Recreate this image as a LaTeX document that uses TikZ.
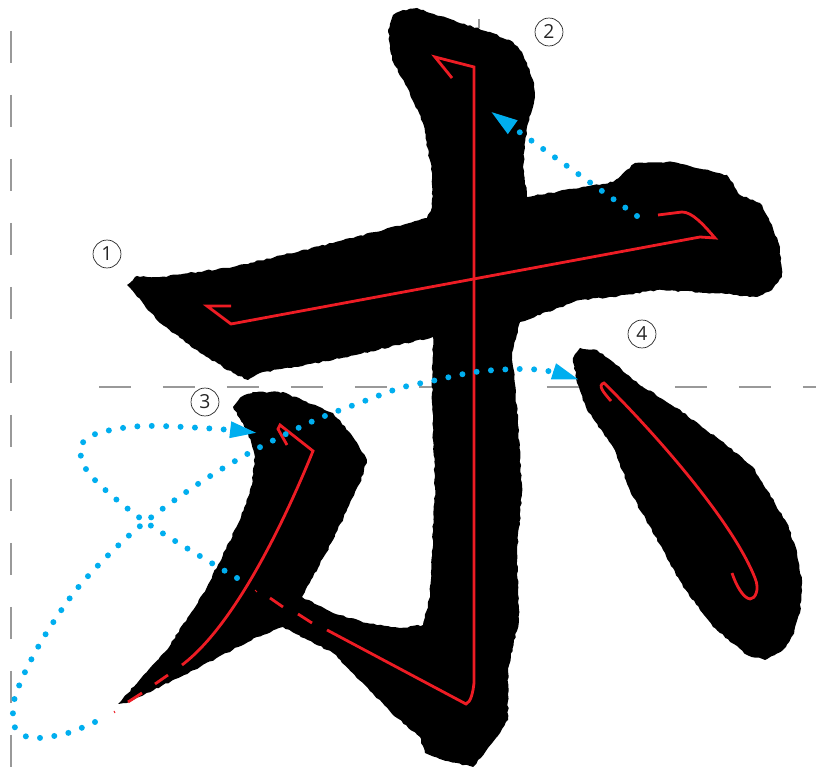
\documentclass[tikz,border=0pt]{standalone}
\usepackage{fontspec}
\newfontfamily\numfont{Open Sans}
\usetikzlibrary{arrows.meta,decorations.pathmorphing}

\begin{document}
\begin{tikzpicture}[x=0.02cm,y=-0.02cm]

    % Styles
    \tikzstyle{guide_line} = [draw=black!40, line width=1.7pt, dash pattern=on 0.64cm off 0.64cm]
    \tikzstyle{brush_shape} = [fill=black, decorate,
        decoration={random steps, segment length=2pt, amplitude=0.45pt}]
    \tikzstyle{trace_line} = [draw=traceRed, line width=1.6pt]
    \tikzstyle{order_path} = [draw=orderBlue, line width=3.4pt, line cap=round,
        dash pattern=on 0pt off 8.2pt,
        -{Triangle[length=15.9pt,width=8.5pt,fill=orderBlue]}]
    \tikzstyle{order_num} = [font=\numfont\fontsize{11}{11}\selectfont, text=black!85,
        draw=black!85, line width=0.4pt, circle, minimum size=15.9pt, inner sep=0pt,
        anchor=center]
    \definecolor{traceRed}{RGB}{237,28,36}
    \definecolor{orderBlue}{RGB}{0,174,239}

    \useasboundingbox (0,0) rectangle (816,770);

    % Guide lines behind the character
    \coordinate (guide_top) at (11,31);
    \coordinate (guide_bottom) at (11,770);
    \coordinate (guide_left) at (99,387);
    \coordinate (guide_right) at (816,387);
    \draw[guide_line] (guide_top) -- (guide_bottom);
    \draw[guide_line] (guide_left) -- (guide_right);
    \draw[draw=black!40, line width=0.8pt] (479,19) -- (479,28);

    % Strokes 1, 2 and 3 joined together
    \path[brush_shape] plot coordinates {
        (388,30) (393,15) (403,10) (417,8) (457,22) (490,32) (513,42) (522,52) (527,63) (533,80) (535,97)
        (527,127) (523,167) (527,197) (613,182) (635,163) (673,162) (727,175)
        (740,195) (760,203) (772,225) (780,247) (782,277) (772,290) (757,297) (713,293) (657,290)
        (613,297) (580,300) (520,322) (512,353) (518,420) (522,493) (517,553)
        (519,620) (508,670) (508,720) (500,733) (473,767) (443,760) (425,753) (420,737)
        (397,718) (333,653) (283,627) (257,637) (200,667) (127,703) (118,704)
        (167,650) (207,587) (240,520) (252,485) (255,457) (247,430) (233,407) (241,397) (253,392) (283,392)
        (333,413) (353,437) (367,460) (360,483) (333,540) (302,597) (333,613)
        (367,623) (400,628) (423,625) (430,597) (435,487) (432,403) (433,337)
        (333,360) (260,373) (248,380) (233,373) (200,353) (160,323) (127,285)
        (137,276) (160,277) (233,267) (333,243) (427,218) (432,207) (432,173)
        (423,123) (407,87) (392,60)} -- cycle;

    % Stroke 4
    \path[brush_shape] plot coordinates {
        (573,358) (580,348) (597,350) (613,362) (633,380) (677,408) (720,440)
        (753,467) (767,490) (787,523) (797,552) (802,580) (800,613) (793,635) (783,650) (765,660)
        (747,655) (713,627) (683,587) (663,550) (633,497) (613,447) (587,410)
        (577,383)} -- cycle;

    % Red centre lines
    \draw[trace_line] (231,306) -- (207,306) -- (231,324) -- (700,237) -- (715,238)
        .. controls (703,224) and (692,212) .. (682,212) -- (658,215);
    \draw[trace_line] (452,78) -- (435,57) -- (474,67) -- (474,683)
        .. controls (473,692) and (471,702) .. (466,704) -- (327,630);
    \draw[trace_line] (312,623) -- (298,614);
    \draw[trace_line] (283,607) -- (270,598);
    \draw[draw=traceRed, line width=0.6pt] (255,590) -- (257,592);
    \draw[trace_line] (287,445) -- (278,429) -- (280,425) -- (313,451)
        .. controls (285,520) and (235,625) .. (182,665);
    \draw[trace_line] (168,675) -- (155,684);
    \draw[trace_line] (142,693) -- (128,702);
    \draw[draw=traceRed, line width=0.6pt] (114,711) -- (115,713);
    \draw[trace_line] (611,401) .. controls (604,393) and (597,385) .. (604,383)
        .. controls (640,418) and (730,515) .. (755,578)
        .. controls (760,590) and (755,599) .. (750,599)
        .. controls (743,598) and (736,585) .. (732,573);

    % Blue writing order paths
    \coordinate (tail_two) at (637,216);
    \coordinate (head_two) at (490,111);
    \coordinate (tail_three) at (237,578);
    \coordinate (head_three) at (258,433);
    \coordinate (tail_four) at (95,722);
    \coordinate (head_four) at (580,380);
    \draw[order_path] (tail_two) -- (head_two);
    \draw[order_path] plot[smooth, tension=0.55] coordinates {
        (tail_three) (147,523) (92,477) (80,450) (88,438) (102,432) (130,427)
        (160,426) (218,429) (head_three)};
    \draw[order_path] plot[smooth, tension=0.55] coordinates {
        (tail_four) (68,733) (39,738) (25,736) (14,726) (13,712) (15,697)
        (26,670) (47,632) (81,584) (133,532) (192,488) (242,457) (280,437)
        (320,418) (362,402) (400,388) (432,381) (475,372) (518,369) (548,371)
        (head_four)};

    % Stroke numbers
    \node[order_num] (num_one) at (107,254) {1};
    \node[order_num] (num_two) at (549,32) {2};
    \node[order_num] (num_three) at (205,402) {3};
    \node[order_num] (num_four) at (642,334) {4};

\end{tikzpicture}
\end{document}
